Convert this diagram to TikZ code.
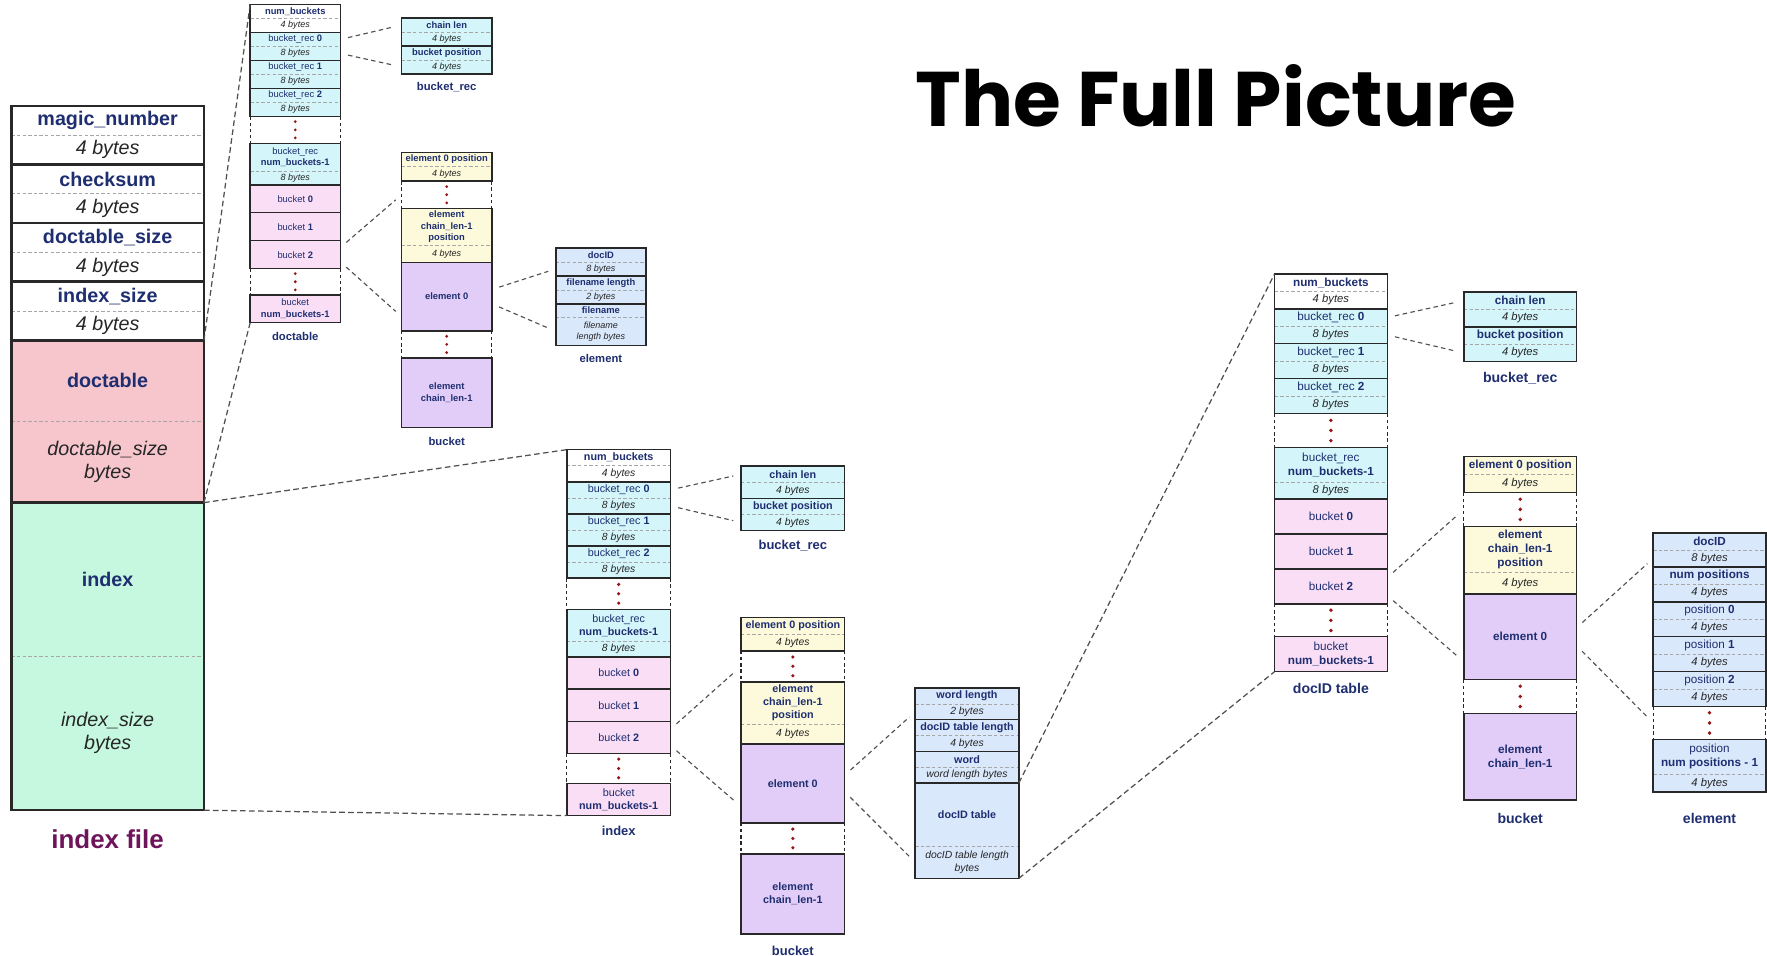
\documentclass[tikz,border=0pt]{standalone}
\usepackage{fontspec}
\setmainfont{Liberation Sans}
\newfontfamily\titlefont{Poppins}

\definecolor{navy}{RGB}{30,46,112}
\definecolor{framecol}{RGB}{40,40,40}
\definecolor{linkgray}{RGB}{80,80,80}
\definecolor{recfill}{RGB}{212,246,250}
\definecolor{bktfill}{RGB}{250,222,246}
\definecolor{posfill}{RGB}{252,250,218}
\definecolor{elfill}{RGB}{226,204,248}
\definecolor{itemfill}{RGB}{218,232,252}
\definecolor{dtfill}{RGB}{246,198,204}
\definecolor{ixfill}{RGB}{198,248,224}
\definecolor{dotred}{RGB}{150,20,20}
\definecolor{filecol}{RGB}{110,20,90}

\tikzset{part/.style={anchor=north west, minimum width=100pt, inner sep=0pt,
			outer sep=0pt, align=center, text=navy,
			font=\fontsize{10.4}{12.5}\selectfont},
		bytes/.style={part, text=black!85, font=\itshape\fontsize{10}{12}\selectfont},
		cell/.style={part, draw=framecol, line width=1.3pt},
		frame/.style={draw=framecol, line width=1.3pt},
		split/.style={draw=gray!70, line width=0.6pt, dash pattern=on 3pt off 2pt},
		gapside/.style={draw=framecol, line width=1pt, dash pattern=on 3pt off 2.5pt},
		caption/.style={inner sep=0pt, text=navy, font=\bfseries\fontsize{12.5}{15}\selectfont},
		zoomlink/.style={draw=linkgray, line width=1pt, dash pattern=on 4pt off 3pt,
			shorten <=7pt, shorten >=7pt},
		biglink/.style={draw=linkgray, line width=1.1pt, dash pattern=on 5pt off 3pt}}

% one field, one text
\newcommand{\onecell}[5]{%
	\node[cell, fill=#2, minimum height=#4pt] (#1) at (0,#3) {#5};}
% field with name part and size part
\newcommand{\twocell}[7]{%
	\node[part, fill=#2, minimum height=#4pt] (#1) at (0,#3) {#6};
	\node[bytes, fill=#2, minimum height=#5pt] (#1b) at (#1.south west) {#7};
	\draw[split] (#1.south west) -- (#1.south east);
	\draw[frame] (#1.north west) rectangle (#1b.south east);}
% skipped fields
\newcommand{\gapcell}[3]{%
	\node[part, minimum height=#3pt] (#1) at (0,#2) {};
	\draw[gapside] (#1.north west) -- (#1.south west) (#1.north east) -- (#1.south east);
	\foreach \k in {-1,0,1} {
		\fill[dotred] (50,{#2+#3/2+\k*9}) circle (1.7);
	}}

\newcommand{\hashtable}[2]{%
	\twocell{#1nb}{white}{0}{15.5}{15.5}{\textbf{num\_buckets}}{4 bytes}
	\foreach \i/\y in {0/31,1/62,2/93} {
		\twocell{#1r\i}{recfill}{\y}{15.5}{15.5}{bucket\_rec \textbf{\i}}{8 bytes}
	}
	\gapcell{#1g1}{124}{30}
	\twocell{#1rn}{recfill}{154}{31}{15}{bucket\_rec\\\textbf{num\_buckets-1}}{8 bytes}
	\foreach \i/\y in {0/200,1/231,2/262} {
		\onecell{#1b\i}{bktfill}{\y}{31}{bucket \textbf{\i}}
	}
	\gapcell{#1g2}{293}{29}
	\onecell{#1bn}{bktfill}{322}{31}{bucket\\\textbf{num\_buckets-1}}
	\node[caption] (#1cap) at (50,368) {#2};}

\newcommand{\bucketrec}[1]{%
	\twocell{#1cl}{recfill}{0}{15.5}{15.5}{\textbf{chain len}}{4 bytes}
	\twocell{#1bp}{recfill}{31}{15.5}{15.5}{\textbf{bucket position}}{4 bytes}
	\node[caption] (#1cap) at (50,77) {bucket\_rec};}

\newcommand{\bucket}[1]{%
	\twocell{#1p0}{posfill}{0}{16}{16}{\textbf{element 0 position}}{4 bytes}
	\gapcell{#1g1}{32}{30}
	\twocell{#1pn}{posfill}{62}{41}{19}{\textbf{element}\\\textbf{chain\_len-1}\\\textbf{position}}{4 bytes}
	\onecell{#1e0}{elfill}{122}{76}{\textbf{element 0}}
	\gapcell{#1g2}{198}{30}
	\onecell{#1en}{elfill}{228}{77}{\textbf{element}\\\textbf{chain\_len-1}}
	\node[caption] (#1cap) at (50,321) {bucket};}

\begin{document}
\begin{tikzpicture}[x=1pt,y=-1pt]
	\path[fill=white, use as bounding box] (0,0) rectangle (1568,848);
	
	\node[anchor=base west, inner sep=0pt, font=\titlefont\bfseries\fontsize{68.7}{80}\selectfont]
		(title) at (812,112) {The Full Picture};
	
	% the index file
	\begin{scope}[shift={(10,94)},
			part/.append style={minimum width=171pt, font=\fontsize{17.5}{21}\selectfont},
			bytes/.append style={font=\itshape\fontsize{17.5}{21}\selectfont},
			frame/.append style={line width=2.2pt}]
		\twocell{f-mn}{white}{0}{26}{26}{\textbf{magic\_number}}{4 bytes}
		\twocell{f-ck}{white}{52}{26}{26}{\textbf{checksum}}{4 bytes}
		\twocell{f-ds}{white}{104}{26}{26}{\textbf{doctable\_size}}{4 bytes}
		\twocell{f-is}{white}{156}{26}{26}{\textbf{index\_size}}{4 bytes}
		\twocell{f-dt}{dtfill}{208}{72}{72}{\textbf{doctable}}{doctable\_size\\bytes}
		\twocell{f-ix}{ixfill}{352}{136}{137}{\textbf{index}}{index\_size\\bytes}
		\node[caption, text=filecol, font=\bfseries\fontsize{23}{27}\selectfont]
			(f-cap) at (85.5,651) {index file};
	\end{scope}
	
	% doctable
	\begin{scope}[shift={(222,4)}, scale=0.8, transform shape]
		\hashtable{dt-}{doctable}
		\begin{scope}[shift={(168,15)}]
			\bucketrec{dtrec-}
		\end{scope}
		\begin{scope}[shift={(168,164)}]
			\bucket{dtbkt-}
		\end{scope}
		\begin{scope}[shift={(339,270)}]
			\twocell{dtel-id}{itemfill}{0}{15.5}{15.5}{\textbf{docID}}{8 bytes}
			\twocell{dtel-fl}{itemfill}{31}{15.5}{15.5}{\textbf{filename length}}{2 bytes}
			\twocell{dtel-fn}{itemfill}{62}{15}{31}{\textbf{filename}}{filename\\length bytes}
			\node[caption] (dtel-cap) at (50,123) {element};
		\end{scope}
		\draw[zoomlink] (dt-r0.east) -- (dtrec-cl.west);
		\draw[zoomlink] (dt-r0b.east) -- (dtrec-bpb.west);
		\draw[zoomlink] (dt-b2.9) -- (dtbkt-g1.west);
		\draw[zoomlink] (dt-b2.351) -- (dtbkt-e0.204);
		\draw[zoomlink] (dtbkt-e0.9) -- (dtel-idb.west);
		\draw[zoomlink] (dtbkt-e0.351) -- (dtel-fnb.west);
	\end{scope}
	
	% index
	\begin{scope}[shift={(503,399)}, scale=0.92, transform shape]
		\hashtable{ix-}{index}
		\begin{scope}[shift={(168,16)}]
			\bucketrec{ixrec-}
		\end{scope}
		\begin{scope}[shift={(168,162)}]
			\bucket{ixbkt-}
		\end{scope}
		\begin{scope}[shift={(336,230)}]
			\twocell{ixel-wl}{itemfill}{0}{15.25}{15.25}{\textbf{word length}}{2 bytes}
			\twocell{ixel-dl}{itemfill}{30.5}{15.25}{15.25}{\textbf{docID table length}}{4 bytes}
			\twocell{ixel-wd}{itemfill}{61}{15.25}{15.25}{\textbf{word}}{word length bytes}
			\twocell{ixel-dt}{itemfill}{91.5}{61}{31}{\textbf{docID table}}{docID table length\\bytes}
		\end{scope}
		\draw[zoomlink] (ix-r0.east) -- (ixrec-cl.west);
		\draw[zoomlink] (ix-r0b.east) -- (ixrec-bpb.west);
		\draw[zoomlink] (ix-b2.9) -- (ixbkt-g1.west);
		\draw[zoomlink] (ix-b2.351) -- (ixbkt-e0.204);
		\draw[zoomlink] (ixbkt-e0.9) -- (ixel-wlb.west);
		\draw[zoomlink] (ixbkt-e0.351) -- (ixel-dtb.west);
	\end{scope}
	
	% docID table
	\begin{scope}[shift={(1131,243)}, scale=1, transform shape]
		\hashtable{di-}{docID table}
		\begin{scope}[shift={(168,16)}]
			\bucketrec{direc-}
		\end{scope}
		\begin{scope}[shift={(168,162)}]
			\bucket{dibkt-}
		\end{scope}
		\begin{scope}[shift={(336,230)}]
			\twocell{diel-id}{itemfill}{0}{15}{15}{\textbf{docID}}{8 bytes}
			\twocell{diel-np}{itemfill}{30}{15.5}{15.5}{\textbf{num positions}}{4 bytes}
			\foreach \i/\y in {0/61,1/92,2/123} {
				\twocell{diel-p\i}{itemfill}{\y}{15.5}{15.5}{position \textbf{\i}}{4 bytes}
			}
			\gapcell{diel-g1}{154}{29}
			\twocell{diel-pn}{itemfill}{183}{31}{16}{position\\\textbf{num positions - 1}}{4 bytes}
			\node[caption] (diel-cap) at (50,253) {element};
		\end{scope}
		\draw[zoomlink] (di-r0.east) -- (direc-cl.west);
		\draw[zoomlink] (di-r0b.east) -- (direc-bpb.west);
		\draw[zoomlink] (di-b2.9) -- (dibkt-g1.west);
		\draw[zoomlink] (di-b2.351) -- (dibkt-e0.204);
		\draw[zoomlink] (dibkt-e0.9) -- (diel-idb.west);
		\draw[zoomlink] (dibkt-e0.351) -- (diel-g1.west);
	\end{scope}
	
	\draw[biglink] (f-dt.north east) -- (dt-nb.north west);
	\draw[biglink] (f-dtb.south east) -- (dt-bn.south west);
	\draw[biglink] (f-ix.north east) -- (ix-nb.north west);
	\draw[biglink] (f-ixb.south east) -- (ix-bn.south west);
	\draw[biglink] (ixel-dt.north east) -- (di-nb.north west);
	\draw[biglink] (ixel-dtb.south east) -- (di-bn.south west);
\end{tikzpicture}
\end{document}
